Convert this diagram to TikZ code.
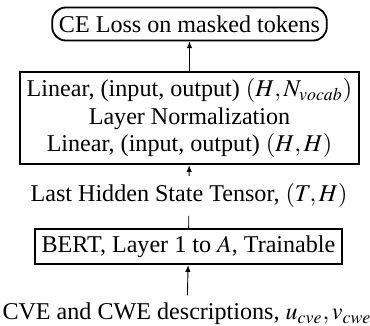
\documentclass[tikz,border=0pt]{standalone}
\usepackage{mathptmx}
\usepackage[no-math]{fontspec}
\setmainfont{Liberation Serif}
\usepackage{tikz}
\usetikzlibrary{arrows.meta,positioning,calc}

\begin{document}
\begin{tikzpicture}[x=0.444pt,y=-0.444pt,
  font=\fontsize{10.7pt}{12.2pt}\selectfont,
  layer/.style={draw,thick,inner xsep=3pt,inner ysep=3pt,align=center},
  flow/.style={-{Latex[length=3pt,width=2.4pt]}}]
\useasboundingbox (0,0) rectangle (370,326);
\node[layer,rounded corners=6pt,minimum width=265*0.444pt,minimum height=33*0.444pt] (loss) at (189.5,24) {CE Loss on masked tokens};
\node[layer,minimum width=335*0.444pt,minimum height=90*0.444pt] (head) at (189.5,118)
  {Linear, (input, output) $(H, N_{vocab})$\\ Layer Normalization\\ Linear, (input, output) $(H, H)$};
\node[anchor=base] (hidden) at (189,202) {Last Hidden State Tensor, $(T, H)$};
\node[layer,minimum width=305*0.444pt,minimum height=33*0.444pt] (bert) at (188.5,246.5) {BERT, Layer 1 to $A$, Trainable};
\node[anchor=base] (input) at (187,320) {CVE and CWE descriptions, $u_{cve}, v_{cwe}$};

\draw[flow] (head) -- (loss);
\draw[flow] (hidden) -- (head);
\draw (bert) -- (hidden);
\draw[flow] (input) -- (bert);
\end{tikzpicture}
\end{document}
